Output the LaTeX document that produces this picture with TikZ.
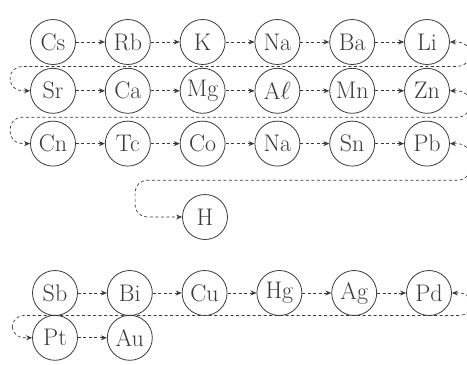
\documentclass[tikz,border=0pt]{standalone}
\usepackage{tikz}
\usetikzlibrary{arrows.meta,positioning,calc}
\definecolor{ink}{HTML}{3A3A3A}

\begin{document}
\begin{tikzpicture}[x=1pt,y=1pt,node distance=29pt,
 every node/.style={font=\fontsize{24}{26}\selectfont,text=ink},
 el/.style={draw=ink,circle,line width=0.8pt,minimum size=45pt,inner sep=0pt},
 link/.style={ink,line width=0.7pt,dash pattern=on 3pt off 2.5pt,-{Stealth[length=6pt,width=5pt]}},
 wrap/.style={link,rounded corners=12pt,{Stealth[length=6pt,width=5pt]}-{Stealth[length=6pt,width=5pt]}}]
\useasboundingbox (0,0) rectangle (467,-365);
% first row
\node[el] (Cs) at (53,-42) {Cs};
\node[el,right=of Cs] (Rb) {Rb};
\node[el,right=of Rb] (K) {K};
\node[el,right=of K] (Na) {Na};
\node[el,right=of Na] (Ba) {Ba};
\node[el,right=of Ba] (Li) {Li};
% second row
\node[el,below=3pt of Cs] (Sr) {Sr};
\node[el,right=of Sr] (Ca) {Ca};
\node[el,right=of Ca] (Mg) {Mg};
\node[el,right=of Mg] (Al) {A$\ell$};
\node[el,right=of Al] (Mn) {Mn};
\node[el,right=of Mn] (Zn) {Zn};
% third row
\node[el,below=7pt of Sr] (Cn) {Cn};
\node[el,right=of Cn] (Tc) {Tc};
\node[el,right=of Tc] (Co) {Co};
\node[el,right=of Co] (Nb) {Na};
\node[el,right=of Nb] (Sn) {Sn};
\node[el,right=of Sn] (Pb) {Pb};
\node[el] (H) at (205,-217) {H};
% below hydrogen
\node[el] (Sb) at (55,-293) {Sb};
\node[el,right=of Sb] (Bi) {Bi};
\node[el,right=of Bi] (Cu) {Cu};
\node[el,right=of Cu] (Hg) {Hg};
\node[el,right=of Hg] (Ag) {Ag};
\node[el,right=of Ag] (Pd) {Pd};
\node[el,below=-1pt of Sb] (Pt) {Pt};
\node[el,right=of Pt] (Au) {Au};

\draw[link] (Cs)--(Rb);\draw[link] (Rb)--(K);\draw[link] (K)--(Na);\draw[link] (Na)--(Ba);\draw[link] (Ba)--(Li);
\draw[link] (Sr)--(Ca);\draw[link] (Ca)--(Mg);\draw[link] (Mg)--(Al);\draw[link] (Al)--(Mn);\draw[link] (Mn)--(Zn);
\draw[link] (Cn)--(Tc);\draw[link] (Tc)--(Co);\draw[link] (Co)--(Nb);\draw[link] (Nb)--(Sn);\draw[link] (Sn)--(Pb);
\draw[link] (Sb)--(Bi);\draw[link] (Bi)--(Cu);\draw[link] (Cu)--(Hg);\draw[link] (Hg)--(Ag);\draw[link] (Ag)--(Pd);
\draw[link] (Pt)--(Au);

% turns from one row to the next
\coordinate (g1) at ($(Cs.south)!.5!(Sr.north)$);
\coordinate (g2) at ($(Sr.south)!.5!(Cn.north)$);
\coordinate (g3) at ($(Pb.south)!.5!(H.north)$);
\coordinate (g4) at ($(Sb.south)!.5!(Pt.north)$);
\path (g1 -| Sr.west) ++(-20pt,0) coordinate (l1);
\path (g2 -| Cn.west) ++(-20pt,0) coordinate (l2);
\path (g3 -| H.west) ++(-47pt,0) coordinate (l3);
\path (g4 -| Pt.west) ++(-20pt,0) coordinate (l4);
\draw[wrap] (Li.east) -- ++(20pt,0) |- (l1) |- (Sr.west);
\draw[wrap] (Zn.east) -- ++(20pt,0) |- (l2) |- (Cn.west);
\draw[wrap] (Pb.east) -- ++(20pt,0) |- (l3) |- (H.west);
\draw[wrap] (Pd.east) -- ++(20pt,0) |- (l4) |- (Pt.west);
\end{tikzpicture}
\end{document}
